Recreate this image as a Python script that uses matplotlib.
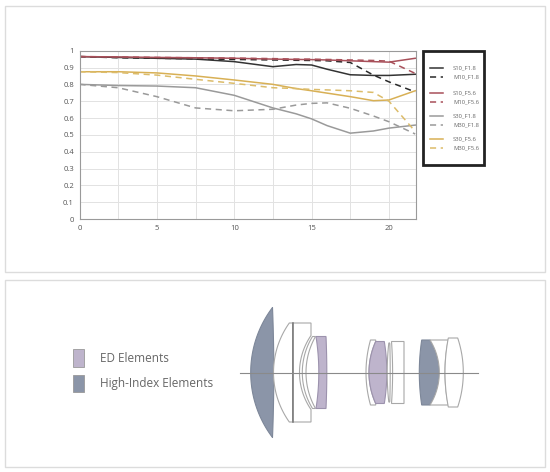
import numpy as np
import matplotlib
matplotlib.use("Agg")
import matplotlib.pyplot as plt
from matplotlib.patches import Rectangle, Polygon

plt.rcParams['font.family'] = ['Open Sans', 'DejaVu Sans']

# ---------------- data ----------------
field = [0, 2.5, 5, 7.5, 10, 12.5, 14, 15, 16, 17.5, 19, 20, 21.7]
s10_f18 = [0.965, 0.96, 0.955, 0.95, 0.935, 0.905, 0.918, 0.915, 0.89, 0.857, 0.853, 0.853, 0.86]
m10_f18 = [0.965, 0.958, 0.955, 0.952, 0.948, 0.945, 0.943, 0.942, 0.94, 0.93, 0.855, 0.815, 0.755]
s10_f56 = [0.965, 0.963, 0.96, 0.958, 0.955, 0.95, 0.948, 0.947, 0.945, 0.94, 0.935, 0.932, 0.955]
m10_f56 = [0.965, 0.963, 0.96, 0.958, 0.956, 0.953, 0.95, 0.95, 0.948, 0.945, 0.942, 0.938, 0.865]
s30_f18 = [0.80, 0.793, 0.79, 0.78, 0.735, 0.66, 0.625, 0.595, 0.555, 0.51, 0.523, 0.54, 0.558]
m30_f18 = [0.80, 0.78, 0.727, 0.66, 0.643, 0.652, 0.677, 0.687, 0.69, 0.658, 0.612, 0.578, 0.505]
s30_f56 = [0.875, 0.875, 0.868, 0.85, 0.826, 0.80, 0.775, 0.762, 0.748, 0.727, 0.703, 0.707, 0.762]
m30_f56 = [0.875, 0.87, 0.855, 0.83, 0.806, 0.78, 0.775, 0.77, 0.767, 0.762, 0.752, 0.70, 0.52]

series_labels = ["S10_F1.8", "M10_F1.8", "S10_F5.6", "M10_F5.6",
                 "S30_F1.8", "M30_F1.8", "S30_F5.6", "M30_F5.6"]
x_ticks = [0, 5, 10, 15, 20]
y_ticks = [0, 0.1, 0.2, 0.3, 0.4, 0.5, 0.6, 0.7, 0.8, 0.9, 1.0]
y_tick_labels = ["0", "0.1", "0.2", "0.3", "0.4", "0.5", "0.6", "0.7", "0.8", "0.9", "1"]
glass_labels = ["ED Elements", "High-Index Elements"]

series = [s10_f18, m10_f18, s10_f56, m10_f56, s30_f18, m30_f18, s30_f56, m30_f56]
colors = ["#333333", "#2a2a2a", "#a8505a", "#a8505a",
          "#9a9a9a", "#9a9a9a", "#d8b055", "#dcbc6a"]
styles = ["-", (0, (4, 3)), "-", (0, (4, 3)), "-", (0, (4, 3)), "-", (0, (4, 3))]

ED_COLOR = "#beb4cc"
HI_COLOR = "#8b95a8"

# ---------------- figure ----------------
W, H = 550, 472
fig = plt.figure(figsize=(W / 100, H / 100), dpi=100)
fig.patch.set_facecolor("white")
bg = fig.add_axes([0, 0, 1, 1], zorder=0)
bg.set_xlim(0, W)
bg.set_ylim(H, 0)
bg.axis('off')

# panel frames
bg.add_patch(Rectangle((5, 6), 540, 266, fill=False, ec="#dcdcdc", lw=1))
bg.add_patch(Rectangle((5, 280), 540, 187, fill=False, ec="#dcdcdc", lw=1))

# ---------------- MTF chart ----------------
ax = fig.add_axes([79.5 / W, 1 - 219 / H, (416 - 79.5) / W, (219 - 50.7) / H], zorder=2)
for ys, c, ls in zip(series, colors, styles):
    ax.plot(field, ys, color=c, linestyle=ls, lw=1.1)
ax.set_xlim(0, 21.75)
ax.set_ylim(0, 1)
ax.set_xticks(x_ticks)
ax.set_xticks(np.arange(0, 21.75, 2.5), minor=True)
ax.set_yticks(y_ticks)
ax.set_yticklabels(y_tick_labels)
ax.grid(True, which='both', color="#e2e2e2", lw=0.7)
ax.set_axisbelow(True)
ax.tick_params(which='both', length=0, labelsize=5.5, labelcolor="#555555", pad=4)
for sp in ax.spines.values():
    sp.set_color("#9a9a9a")
    sp.set_linewidth(0.8)

# legend box (pixel coordinates)
bg.add_patch(Rectangle((423, 51), 60.5, 114, fill=False, ec="#222222", lw=2))
rows = [68.3, 77.3, 92.7, 101.7, 116.3, 125, 139.3, 147.7]
for lab, c, ls, yy in zip(series_labels, colors, styles, rows):
    bg.plot([430, 442.5], [yy, yy], color=c, linestyle=ls, lw=1.1)
    bg.text(453, yy, lab, fontsize=4.2, color="#666666", va='center', ha='left')

# ---------------- lens diagram ----------------
yc = 372.5


def surface(apex, edge, h, n=50):
    ys = np.linspace(-h, h, n)
    s = edge - apex
    if abs(s) < 1e-9:
        xs = np.full(n, float(apex))
    else:
        R = (h * h + s * s) / (2 * abs(s))
        xs = apex + np.sign(s) * (R - np.sqrt(R * R - ys * ys))
    return np.column_stack([xs, yc + ys])


def element(left, right):
    la, le, lh = left
    ra, re, rh = right
    Hh = max(lh, rh)
    pts = [(le, yc - Hh)]
    pts += list(map(tuple, surface(la, le, lh)))
    pts += [(le, yc + Hh), (re, yc + Hh)]
    pts += list(map(tuple, surface(ra, re, rh)[::-1]))
    pts += [(re, yc - Hh)]
    return pts


# (left apex, left edge, half height), (right apex, right edge, half height), kind
elements = [
    ((250.7, 272.5, 65.0), (273.8, 272.5, 65.0), "HI"),
    ((273.5, 289.3, 49.5), (292.7, 292.7, 49.5), "clear"),
    ((292.7, 292.7, 49.5), (299.5, 311.0, 37.0), "clear"),
    ((302.3, 312.5, 36.0), (306.0, 315.5, 36.0), "clear"),
    ((318.8, 316.0, 36.0), (326.8, 326.0, 36.0), "ED"),
    ((366.0, 370.5, 32.5), (369.0, 375.7, 31.0), "clear"),
    ((369.0, 375.7, 31.0), (386.8, 384.3, 31.0), "ED"),
    ((387.2, 388.8, 29.5), (390.2, 389.8, 29.5), "clear"),
    ((392.6, 391.5, 31.0), (404.0, 404.0, 31.0), "clear"),
    ((419.3, 421.7, 32.5), (439.3, 430.0, 32.5), "HI"),
    ((439.3, 430.0, 32.5), (445.0, 448.3, 32.5), "clear"),
    ((445.0, 448.3, 34.5), (463.3, 457.7, 34.5), "clear"),
]
for left, right, kind in elements:
    pts = element(left, right)
    if kind == "HI":
        fc, ec = HI_COLOR, "#7d8799"
    elif kind == "ED":
        fc, ec = ED_COLOR, "#9c92ad"
    else:
        fc, ec = "white", "#a8a8a8"
    bg.add_patch(Polygon(pts, closed=True, fc=fc, ec=ec, lw=0.8, zorder=3))

# cemented interface line
bg.plot([292.7, 292.7], [yc - 49.5, yc + 49.5], color="#777777", lw=1.1, zorder=4)
# optical axis
bg.plot([240, 478], [yc, yc], color="#8a8a8a", lw=0.8, zorder=5)

# glass legend
sw = [(72.7, 349.3), (72.7, 375.0)]
for (x0, y0), lab, fc in zip(sw, glass_labels, [ED_COLOR, HI_COLOR]):
    bg.add_patch(Rectangle((x0, y0), 11.3, 17.3, fc=fc, ec="#999999", lw=0.6))
    bg.text(100, y0 + 8.8, lab, fontsize=8.5, color="#666666", va='center', ha='left')

fig.savefig("out.png", dpi=100, facecolor="white")
